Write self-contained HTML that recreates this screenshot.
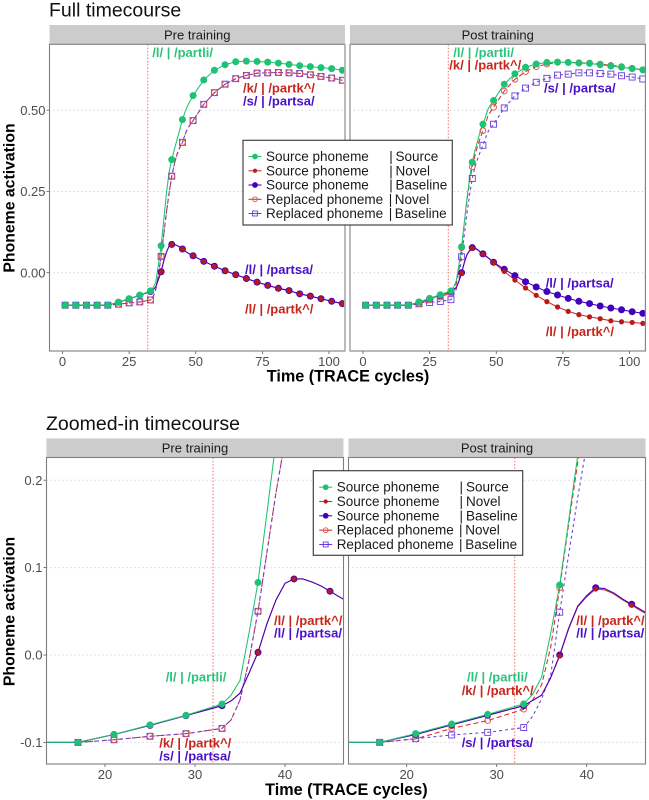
<!DOCTYPE html>
<html lang="en">
<head>
<meta charset="utf-8">
<title>Phoneme activation timecourse</title>
<style>
html,body{margin:0;padding:0;background:#fff;width:649px;height:800px;overflow:hidden}
svg{display:block;font-family:"Liberation Sans",sans-serif}
</style>
</head>
<body>
<svg id="chart" xmlns="http://www.w3.org/2000/svg" width="649" height="800" viewBox="0 0 649 800"></svg>
<script>
const cycles = [1,5,9,13,17,21,25,29,33,34,35,36,37,38,39,40,41,42,43,44,45,46,47,49,53,57,61,65,69,73,77,81,85,89,93,97,101,105];

const preSource = [-.1,-.1,-.1,-.1,-.1,-.091,-.08,-.069,-.056,-.046,-.029,.025,.083,.163,.245,.31,.348,.38,.41,.44,.471,.495,.515,.545,.593,.623,.64,.649,.651,.65,.648,.645,.641,.637,.634,.631,.628,.623];
const preNovel = [-.1,-.1,-.1,-.1,-.1,-.091,-.0805,-.0694,-.058,-.0526,-.0437,-.0208,.003,.036,.063,.082,.087,.087,.0835,.079,.073,.0667,.061,.052,.035,.02,.006,-.006,-.018,-.029,-.039,-.048,-.055,-.065,-.072,-.08,-.088,-.095];
const preBaseline = [-.1,-.1,-.1,-.1,-.1,-.091,-.0805,-.0694,-.058,-.0526,-.0437,-.0208,.003,.036,.063,.082,.087,.087,.0835,.079,.073,.0667,.061,.052,.035,.02,.006,-.006,-.018,-.029,-.039,-.048,-.055,-.065,-.072,-.08,-.088,-.095];
const preReplacedNovel = [-.1,-.1,-.1,-.1,-.1,-.097,-.093,-.09,-.084,-.0744,-.0515,-.006,.05,.118,.186,.245,.297,.335,.365,.385,.401,.425,.445,.468,.518,.554,.58,.597,.607,.614,.615,.616,.615,.613,.609,.604,.599,.592];
const preReplacedBaseline = [-.1,-.1,-.1,-.1,-.1,-.097,-.093,-.09,-.084,-.0744,-.0515,-.006,.05,.118,.186,.245,.297,.335,.365,.385,.401,.425,.445,.468,.518,.554,.58,.597,.607,.614,.615,.616,.615,.613,.609,.604,.599,.592];

const postSource = [-.1,-.1,-.1,-.1,-.1,-.09,-.079,-.068,-.056,-.045,-.025,.025,.08,.154,.228,.29,.34,.375,.405,.435,.457,.48,.505,.53,.58,.612,.632,.642,.647,.648,.647,.645,.644,.64,.636,.632,.628,.624];
const postNovel = [-.1,-.1,-.1,-.1,-.1,-.091,-.08,-.069,-.058,-.052,-.0458,-.026,-.001,.03,.055,.0667,.0755,.0745,.07,.063,.057,.0507,.045,.031,.004,-.0225,-.047,-.0696,-.089,-.1055,-.119,-.129,-.136,-.1415,-.148,-.151,-.153,-.156];
const postBaseline = [-.1,-.1,-.1,-.1,-.1,-.091,-.08,-.069,-.058,-.052,-.0458,-.026,0,.031,.056,.068,.077,.076,.071,.064,.058,.052,.046,.032,.0105,-.009,-.0277,-.044,-.058,-.0686,-.079,-.088,-.095,-.1025,-.1086,-.114,-.12,-.125];
const postReplacedNovel = [-.1,-.1,-.1,-.1,-.1,-.096,-.084,-.075,-.062,-.0515,-.034,.009,.077,.15,.22,.28,.326,.36,.39,.415,.437,.46,.485,.509,.559,.595,.619,.634,.642,.647,.647,.646,.645,.642,.638,.634,.629,.624];
const postReplacedBaseline = [-.1,-.1,-.1,-.1,-.1,-.0957,-.0915,-.0885,-.083,-.07,-.05,-.023,.049,.115,.18,.24,.29,.325,.35,.372,.392,.415,.435,.457,.507,.544,.568,.586,.598,.608,.611,.615,.615,.613,.611,.606,.602,.596];

const fullXTicks = [0,25,50,75,100];
const fullYTicks = [0,0.25,0.5];
const fullYTickLabels = ['0.00','0.25','0.50'];
const zoomXTicks = [20,30,40];
const zoomYTicks = [-0.1,0,0.1,0.2];
const zoomYTickLabels = ['-0.1','0.0','0.1','0.2'];
const trainingOnset = [32];
const legendPhonemes = ['Source phoneme','Source phoneme','Source phoneme','Replaced phoneme','Replaced phoneme'];
const legendConditions = ['Source','Novel','Baseline','Novel','Baseline'];

const NS = 'http://www.w3.org/2000/svg';
const root = document.getElementById('chart');
const GREEN = '#1fc274', RED = '#b81a1a', REDLINE = '#cf2f25', BLUE = '#4300bd';
const OPENRED = '#d8544a', OPENBLUE = '#6a3ddc';

function mk(parent, tag, attrs, text) {
  const el = document.createElementNS(NS, tag);
  for (const k in attrs) el.setAttribute(k, attrs[k]);
  if (text !== undefined) el.textContent = text;
  parent.appendChild(el);
  return el;
}
function label(parent, x, y, str, size, fill, weight, anchor, name) {
  const el = mk(parent, 'text', {x: x, y: y, 'font-size': size, fill: fill, 'font-weight': weight || 'normal', 'text-anchor': anchor || 'start'}, str);
  
  
  return el;
}

const styleOf = {
  replacedBaseline: {name: 'replaced-baseline', color: OPENBLUE, dash: '3 3', shape: 'square'},
  replacedNovel: {name: 'replaced-novel', color: REDLINE, dash: '5 3', shape: 'open'},
  baseline: {name: 'source-baseline', color: BLUE, dash: null, shape: 'big'},
  novel: {name: 'source-novel', color: REDLINE, dash: null, shape: 'small'},
  source: {name: 'source-source', color: GREEN, dash: null, shape: 'green'}
};

function drawMarker(g, shape, x, y, k) {
  let m;
  if (shape === 'square') {
    m = mk(g, 'rect', {x: x - 3 * k, y: y - 3 * k, width: 6 * k, height: 6 * k, fill: 'none', stroke: OPENBLUE, 'stroke-width': 0.9});
  } else if (shape === 'open') {
    m = mk(g, 'circle', {cx: x, cy: y, r: 2.9 * k, fill: 'none', stroke: OPENRED, 'stroke-width': 0.9});
  } else if (shape === 'big') {
    m = mk(g, 'circle', {cx: x, cy: y, r: 3.5 * k, fill: BLUE});
  } else if (shape === 'small') {
    m = mk(g, 'circle', {cx: x, cy: y, r: 2.6 * k, fill: RED});
  } else {
    m = mk(g, 'circle', {cx: x, cy: y, r: 3.5 * k, fill: GREEN});
  }
  
  
}

let clipId = 0;
function drawPanel(cfg) {
  const g = mk(root, 'g', {});
  
  
  const sx = c => cfg.x0 + c * cfg.xk;
  const sy = v => cfg.y0 - v * cfg.yk;

  const strip = mk(g, 'rect', {x: cfg.left, y: cfg.stripTop, width: cfg.right - cfg.left, height: cfg.top - cfg.stripTop, fill: '#cccccc'});
  
  
  label(g, (cfg.left + cfg.right) / 2, cfg.stripTop + 14.3, cfg.title, 13, '#1a1a1a', 'normal', 'middle', 'facet-title');

  cfg.yTicks.forEach((t, i) => {
    const grid = mk(g, 'line', {x1: cfg.left, x2: cfg.right, y1: sy(t), y2: sy(t), stroke: '#c8c8c8', 'stroke-width': 1, 'stroke-dasharray': '1 3'});
    
    
    if (cfg.showY) {
      const tick = mk(g, 'line', {x1: cfg.left - 3, x2: cfg.left, y1: sy(t), y2: sy(t), stroke: '#555', 'stroke-width': 0.8});
      
      
      label(g, cfg.left - 4, sy(t) + 4.6, cfg.yLabels[i], 13, '#4d4d4d', 'normal', 'end', 'y-tick-label');
    }
  });
  cfg.xTicks.forEach(t => {
    const tick = mk(g, 'line', {x1: sx(t), x2: sx(t), y1: cfg.bottom, y2: cfg.bottom + 3, stroke: '#555', 'stroke-width': 0.8});
    
    
    label(g, sx(t), cfg.bottom + 15, String(t), 13, '#4d4d4d', 'normal', 'middle', 'x-tick-label');
  });

  const id = 'clip' + (clipId++);
  const cp = mk(g, 'clipPath', {id: id});
  mk(cp, 'rect', {x: cfg.left, y: cfg.top, width: cfg.right - cfg.left, height: cfg.bottom - cfg.top});
  const plot = mk(g, 'g', {'clip-path': 'url(#' + id + ')'});
  
  

  trainingOnset.forEach(t => {
    const v = mk(plot, 'line', {x1: sx(t), x2: sx(t), y1: cfg.top, y2: cfg.bottom, stroke: '#f56a6a', 'stroke-width': 1, 'stroke-dasharray': '1.5 1.8'});
    
    
  });

  const lineOrder = ['replacedNovel', 'replacedBaseline', 'novel', 'baseline', 'source'];
  lineOrder.forEach(key => {
    const st = styleOf[key];
    const pts = cycles.map((c, i) => sx(c).toFixed(2) + ',' + sy(cfg.series[key][i]).toFixed(2)).join(' ');
    const attrs = {points: pts, fill: 'none', stroke: st.color, 'stroke-width': 1.05, 'stroke-linejoin': 'round'};
    if (st.dash) attrs['stroke-dasharray'] = st.dash;
    const l = mk(plot, 'polyline', attrs);
    
    
  });

  const pointOrder = ['replacedBaseline', 'replacedNovel', 'baseline', 'novel', 'source'];
  pointOrder.forEach(key => {
    const st = styleOf[key];
    const pg = mk(plot, 'g', {});
    
    
    cycles.forEach((c, i) => {
      if ((c - 1) % 4 === 0) drawMarker(pg, st.shape, sx(c), sy(cfg.series[key][i]), 1);
    });
  });

  const border = mk(g, 'rect', {x: cfg.left, y: cfg.top, width: cfg.right - cfg.left, height: cfg.bottom - cfg.top, fill: 'none', stroke: '#7f7f7f', 'stroke-width': 1.1});
  
  

  if (cfg.innerEdgeX !== undefined) {
    const edge = mk(g, 'line', {x1: cfg.innerEdgeX, x2: cfg.innerEdgeX, y1: cfg.top, y2: cfg.bottom, stroke: '#b4b4b4', 'stroke-width': 1.8});
    
    
  }

  cfg.notes.forEach(n => {
    label(g, n[0], n[1], n[2], 13, n[3], 'bold', 'start', 'series-annotation');
  });
}

function drawLegend(x, y, w, h, textX, pipeX, condX, rows, name) {
  const g = mk(root, 'g', {});
  
  
  const box = mk(g, 'rect', {x: x, y: y, width: w, height: h, fill: '#fff', stroke: '#444', 'stroke-width': 1.2});
  
  
  const keys = ['source', 'novel', 'baseline', 'replacedNovel', 'replacedBaseline'];
  keys.forEach((key, i) => {
    const st = styleOf[key];
    const by = rows[i];
    const kx = textX - 11;
    const sw = mk(g, 'line', {x1: kx - 6.5, x2: kx + 6.5, y1: by - 4.5, y2: by - 4.5, stroke: st.color, 'stroke-width': 1.05});
    
    
    drawMarker(g, st.shape, kx, by - 4.5, 0.82);
    label(g, textX, by, legendPhonemes[i], 13.5, '#1a1a1a', 'normal', 'start', 'legend-phoneme-label');
    label(g, key.indexOf('replaced') === 0 ? pipeX - 0.5 : pipeX, by, '|', 13.5, '#1a1a1a', 'normal', 'start', 'legend-separator');
    label(g, key.indexOf('replaced') === 0 ? condX - 0.7 : condX, by, legendConditions[i], 13.5, '#1a1a1a', 'normal', 'start', 'legend-condition-label');
  });
}

const TGREEN = '#2cc47c', TRED = '#c8261c', TBLUE = '#4a10c8';
const preSeries = {source: preSource, novel: preNovel, baseline: preBaseline, replacedNovel: preReplacedNovel, replacedBaseline: preReplacedBaseline};
const postSeries = {source: postSource, novel: postNovel, baseline: postBaseline, replacedNovel: postReplacedNovel, replacedBaseline: postReplacedBaseline};

label(root, 49, 16.5, 'Full timecourse', 19.5, '#111', 'normal', 'start', 'full-timecourse-title');
label(root, 46, 430, 'Zoomed-in timecourse', 19.5, '#111', 'normal', 'start', 'zoomed-timecourse-title');

const fullBase = {top: 44.3, bottom: 351, stripTop: 25, xk: 2.665, y0: 272.7, yk: 325, xTicks: fullXTicks, yTicks: fullYTicks, yLabels: fullYTickLabels};
const zoomBase = {top: 457.5, bottom: 764, stripTop: 438.4, xk: 9, y0: 655, yk: 874, xTicks: zoomXTicks, yTicks: zoomYTicks, yLabels: zoomYTickLabels};

drawPanel(Object.assign({}, fullBase, {name: 'full-pre-training-panel', title: 'Pre training', left: 49.5, right: 345, x0: 62.5, showY: true, innerEdgeX: 345, series: preSeries, notes: [
  [152.3, 57, '/l/ | /partli/', TGREEN],
  [243, 92.3, '/k/ | /partk^/', TRED],
  [243, 105.7, '/s/ | /partsa/', TBLUE],
  [245, 274, '/l/ | /partsa/', TBLUE],
  [245, 313.3, '/l/ | /partk^/', TRED]
]}));
drawPanel(Object.assign({}, fullBase, {name: 'full-post-training-panel', title: 'Post training', left: 350, right: 645.4, x0: 363, showY: false, innerEdgeX: 350, series: postSeries, notes: [
  [453.3, 57, '/l/ | /partli/', TGREEN],
  [449.3, 69.7, '/k/ | /partk^/', TRED],
  [544, 92.7, '/s/ | /partsa/', TBLUE],
  [545.7, 287.3, '/l/ | /partsa/', TBLUE],
  [545.7, 336, '/l/ | /partk^/', TRED]
]}));
drawPanel(Object.assign({}, zoomBase, {name: 'zoomed-pre-training-panel', title: 'Pre training', left: 46.5, right: 343.5, x0: 105 - 20 * 9, showY: true, series: preSeries, notes: [
  [165.7, 681.7, '/l/ | /partli/', TGREEN],
  [159.3, 747.7, '/k/ | /partk^/', TRED],
  [159.3, 760.7, '/s/ | /partsa/', TBLUE],
  [274, 625, '/l/ | /partk^/', TRED],
  [274, 637.7, '/l/ | /partsa/', TBLUE]
]}));
drawPanel(Object.assign({}, zoomBase, {name: 'zoomed-post-training-panel', title: 'Post training', left: 348.5, right: 645.5, x0: 406.7 - 20 * 9, showY: false, series: postSeries, notes: [
  [467, 681.7, '/l/ | /partli/', TGREEN],
  [461.7, 695, '/k/ | /partk^/', TRED],
  [461.7, 747, '/s/ | /partsa/', TBLUE],
  [576.3, 625, '/l/ | /partk^/', TRED],
  [576.3, 637.7, '/l/ | /partsa/', TBLUE]
]}));

drawLegend(243, 140.3, 209.3, 84.7, 266, 389.3, 395.5, [161, 175.3, 189.5, 203.8, 218], 'full-legend');
drawLegend(313.3, 470.7, 209.4, 84.6, 336.7, 459.5, 466, [491.7, 506, 520.3, 534.7, 549], 'zoomed-legend');

const yTop = label(root, 0, 0, 'Phoneme activation', 15.8, '#000', 'bold', 'middle', 'full-y-axis-title');
yTop.setAttribute('transform', 'translate(14.5,198) rotate(-90)');
const yBot = label(root, 0, 0, 'Phoneme activation', 15.8, '#000', 'bold', 'middle', 'zoomed-y-axis-title');
yBot.setAttribute('transform', 'translate(14.5,611.5) rotate(-90)');
label(root, 348, 381.7, 'Time (TRACE cycles)', 16.2, '#000', 'bold', 'middle', 'full-x-axis-title');
label(root, 346.4, 795, 'Time (TRACE cycles)', 16.2, '#000', 'bold', 'middle', 'zoomed-x-axis-title');
</script>
</body>
</html>
